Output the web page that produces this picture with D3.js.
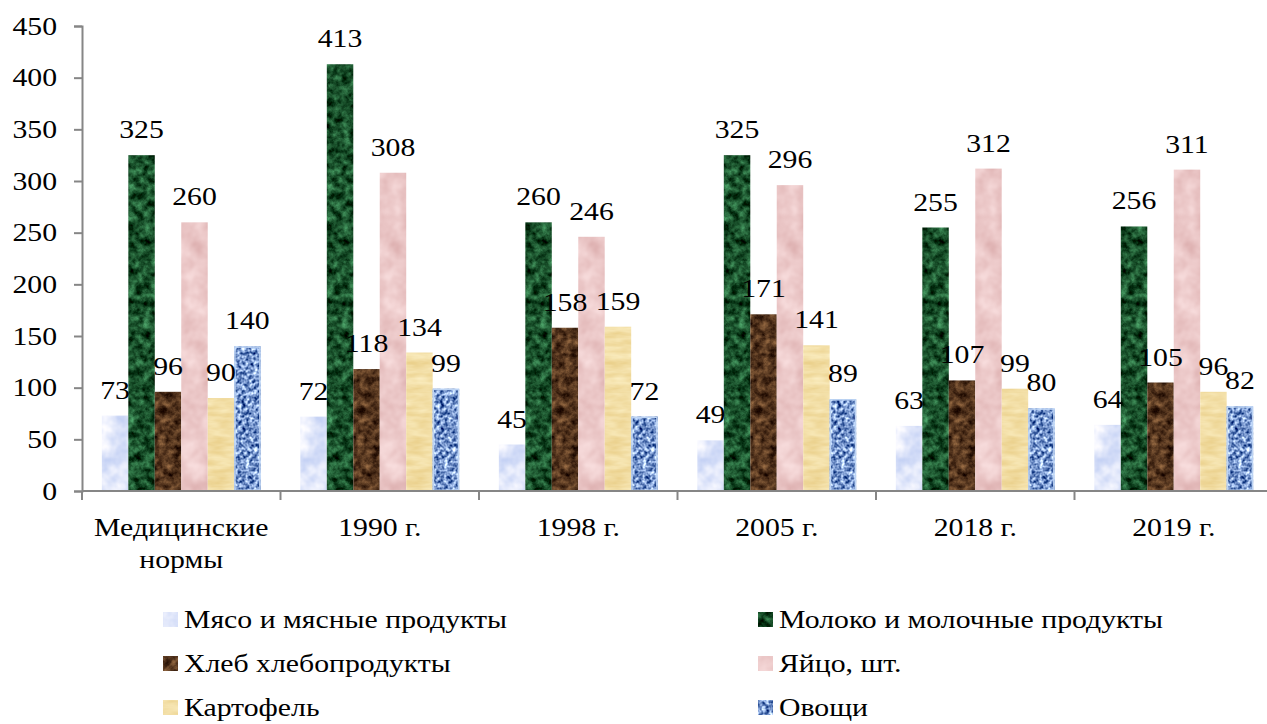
<!DOCTYPE html>
<html>
<head>
<meta charset="utf-8">
<script src="https://cdn.jsdelivr.net/npm/d3@7"></script>
<style>
  html, body { margin: 0; padding: 0; background: #fff; }
  svg { display: block; }
  svg text { font-family: "Liberation Serif", "Times New Roman", serif; fill: #000; }
</style>
</head>
<body>
<svg id="chart" width="1267" height="724"></svg>
<script>
// Consumption per capita, kg (eggs in pieces)
const categories = [["Медицинские", "нормы"], ["1990 г."], ["1998 г."], ["2005 г."], ["2018 г."], ["2019 г."]];
const seriesNames = ["Мясо и мясные продукты", "Молоко и молочные продукты", "Хлеб хлебопродукты", "Яйцо, шт.", "Картофель", "Овощи"];
const meat = [73, 72, 45, 49, 63, 64];
const milk = [325, 413, 260, 325, 255, 256];
const bread = [96, 118, 158, 171, 107, 105];
const eggs = [260, 308, 246, 296, 312, 311];
const potatoes = [90, 134, 159, 141, 99, 96];
const vegetables = [140, 99, 72, 89, 80, 82];
const yTicks = [0, 50, 100, 150, 200, 250, 300, 350, 400, 450];

const seriesValues = [meat, milk, bread, eggs, potatoes, vegetables];

// Texture settings for each series fill
const textures = [
  { c1: "#c8d4f5", c2: "#f2f4fe", k: 2.2, bias: 0.05, freq: "0.06", oct: 3, seed: 3 },
  { c1: "#00270c", c2: "#337a4a", k: 2.6, bias: 0.0, freq: "0.13", oct: 4, seed: 7 },
  { c1: "#2c1508", c2: "#7c5534", k: 2.4, bias: 0.0, freq: "0.13", oct: 4, seed: 11 },
  { c1: "#e2b8b8", c2: "#f5d8d8", k: 2.0, bias: 0.0, freq: "0.05", oct: 3, seed: 5 },
  { c1: "#ecd391", c2: "#f9eabb", k: 1.8, bias: 0.0, freq: "0.04 0.15", oct: 3, seed: 2 },
  { c1: "#1d428a", c2: "#a6c1ee", k: 3.2, bias: 0.15, freq: "0.25", oct: 2, seed: 9 }
];

// Horizontal stretch applied to all chart text
const textStretch = 1.19;
const fontSize = 25;

const svg = d3.select("#chart");
const defs = svg.append("defs");

textures.forEach((t, i) => {
  const f = defs.append("filter")
    .attr("id", "tex" + i)
    .attr("x", 0).attr("y", 0).attr("width", 1).attr("height", 1)
    .attr("color-interpolation-filters", "sRGB");
  f.append("feTurbulence")
    .attr("type", "fractalNoise")
    .attr("baseFrequency", t.freq)
    .attr("numOctaves", t.oct)
    .attr("seed", t.seed)
    .attr("result", "noise");
  const a = d3.rgb(t.c1), b = d3.rgb(t.c2);
  // blend factor: k * (noise - 0.5) + 0.5 + bias
  const row = ch => {
    const d = (b[ch] - a[ch]) / 255;
    const off = a[ch] / 255 + d * (0.5 - 0.5 * t.k + t.bias);
    return `${d * t.k} 0 0 0 ${off}`;
  };
  f.append("feColorMatrix")
    .attr("in", "noise")
    .attr("type", "matrix")
    .attr("values", [row("r"), row("g"), row("b"), "0 0 0 0 1"].join(" "))
    .attr("result", "col");
  f.append("feComposite")
    .attr("in", "col").attr("in2", "SourceGraphic").attr("operator", "in");
});

const plotLeft = 82, plotRight = 1273, plotTop = 26, plotBottom = 491;

const x0 = d3.scaleBand()
  .domain(d3.range(categories.length))
  .range([plotLeft, plotRight])
  .paddingInner(0).paddingOuter(0);

const x1 = d3.scaleBand()
  .domain(d3.range(seriesNames.length))
  .range([0, x0.bandwidth()])
  .paddingInner(0).paddingOuter(0.75);

const y = d3.scaleLinear().domain([0, 450]).range([plotBottom, plotTop]);

const axisColor = "#868686";
const place = (px, py) => `translate(${px},${py}) scale(${textStretch},1)`;

// Y axis
const yAxis = svg.append("g")
  .attr("transform", `translate(${plotLeft},0)`)
  .call(d3.axisLeft(y).tickValues(yTicks).tickSize(8).tickPadding(17).tickFormat(d3.format("d")));
yAxis.attr("font-family", null).attr("font-size", null);
yAxis.select(".domain").attr("stroke", axisColor).attr("stroke-width", 2);
yAxis.selectAll(".tick line").attr("stroke", axisColor).attr("stroke-width", 2);
yAxis.selectAll(".tick text")
  .attr("x", null)
  .attr("transform", place(-25, 0))
  .attr("fill", "#000")
  .style("font-size", fontSize + "px");

// Bars
const groups = svg.append("g").selectAll("g")
  .data(categories)
  .join("g")
  .attr("transform", (d, i) => `translate(${x0(i)},0)`);

groups.selectAll("rect.bar")
  .data((d, ci) => seriesValues.map((vals, si) => ({ si, v: vals[ci] })))
  .join("rect")
  .attr("class", "bar")
  .attr("x", d => x1(d.si))
  .attr("y", d => y(d.v))
  .attr("width", x1.bandwidth())
  .attr("height", d => y(0) - y(d.v))
  .attr("fill", "#888")
  .attr("filter", d => `url(#tex${d.si})`);

// Light edge on the vegetables bars
groups.selectAll("rect.edge")
  .data((d, ci) => [{ si: 5, v: vegetables[ci] }])
  .join("rect")
  .attr("class", "edge")
  .attr("x", d => x1(d.si) + 0.75)
  .attr("y", d => y(d.v) + 0.75)
  .attr("width", x1.bandwidth() - 1.5)
  .attr("height", d => y(0) - y(d.v) - 1.5)
  .attr("fill", "none")
  .attr("stroke", "#bcd3f3")
  .attr("stroke-width", 1.5);

// Value labels
groups.selectAll("text.val")
  .data((d, ci) => seriesValues.map((vals, si) => ({ si, v: vals[ci] })))
  .join("text")
  .attr("class", "val")
  .attr("transform", d => place(x1(d.si) + x1.bandwidth() / 2, y(d.v) - 17))
  .attr("text-anchor", "middle")
  .style("font-size", fontSize + "px")
  .text(d => d.v);

// X axis line and category separators
const xAxis = svg.append("g");
xAxis.append("line")
  .attr("x1", plotLeft).attr("x2", plotRight)
  .attr("y1", plotBottom).attr("y2", plotBottom)
  .attr("stroke", axisColor).attr("stroke-width", 2);
xAxis.selectAll("line.sep")
  .data(d3.range(categories.length + 1))
  .join("line")
  .attr("class", "sep")
  .attr("x1", i => plotLeft + i * x0.step()).attr("x2", i => plotLeft + i * x0.step())
  .attr("y1", plotBottom).attr("y2", plotBottom + 9)
  .attr("stroke", axisColor).attr("stroke-width", 2);

// Category labels
const catLabels = xAxis.selectAll("text.cat")
  .data(categories)
  .join("text")
  .attr("class", "cat")
  .attr("text-anchor", "middle")
  .attr("transform", (d, i) => place(x0(i) + x0.bandwidth() / 2, 536))
  .style("font-size", fontSize + "px");
catLabels.selectAll("tspan")
  .data(d => d)
  .join("tspan")
  .attr("x", 0)
  .attr("dy", (d, i) => i === 0 ? 0 : 32)
  .text(d => d);

// Legend: two columns, three rows
const legendCols = [163, 758];
const legendRows = [628, 672, 716];
const legend = svg.append("g").selectAll("g")
  .data(seriesNames)
  .join("g")
  .attr("transform", (d, i) => `translate(${legendCols[i % 2]},${legendRows[Math.floor(i / 2)]})`);
legend.append("rect")
  .attr("x", 0).attr("y", -16)
  .attr("width", 15).attr("height", 15)
  .attr("fill", "#888")
  .attr("filter", (d, i) => `url(#tex${i})`);
legend.append("text")
  .attr("transform", place(21, 0))
  .style("font-size", fontSize + "px")
  .text(d => d);
</script>
</body>
</html>
